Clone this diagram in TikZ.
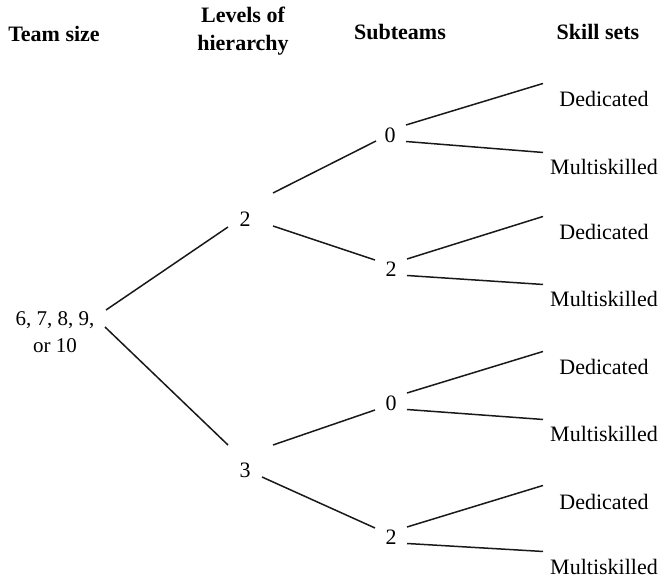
\documentclass[tikz,border=0pt]{standalone}
\usepackage{fontspec}
\setmainfont{Liberation Serif}
\usetikzlibrary{calc}
\begin{document}
\begin{tikzpicture}[x=1pt,y=1pt,
  hdr/.style={font=\fontsize{22}{28}\selectfont\bfseries, inner sep=0pt, align=center},
  num/.style={font=\fontsize{22}{27}\selectfont, inner sep=0pt},
  skill/.style={font=\fontsize{22}{27}\selectfont, inner sep=0pt, anchor=base},
  edge/.style={line width=1.5pt, draw=black!90}]
\useasboundingbox (0,0) rectangle (661,581);
% headers
\node[hdr, anchor=base] (hteam) at (54,539) {Team size};
\node[hdr, anchor=north] (hlev) at (243,574) {Levels of\\hierarchy};
\node[hdr, anchor=base] (hsub) at (400,541) {Subteams};
\node[hdr, anchor=base] (hskill) at (598,541) {Skill sets};
% tree nodes
\node[num, align=center, font=\fontsize{21}{27}\selectfont] (root) at (55,249) {6, 7, 8, 9,\\or 10};
\node[num] (h2) at (245,362) {2};
\node[num] (h3) at (245,111) {3};
\node[num] (s1) at (390,446) {0};
\node[num] (s2) at (391,312) {2};
\node[num] (s3) at (391,178) {0};
\node[num] (s4) at (391,44) {2};
\node[skill] (d1) at (604,474) {Dedicated};
\node[skill] (m1) at (604,406) {Multiskilled};
\node[skill] (d2) at (604,341) {Dedicated};
\node[skill] (m2) at (604,274) {Multiskilled};
\node[skill] (d3) at (604,206) {Dedicated};
\node[skill] (m3) at (604,139) {Multiskilled};
\node[skill] (d4) at (604,72) {Dedicated};
\node[skill] (m4) at (604,7) {Multiskilled};
% connectors
\draw[edge] ($(root)+(51,22)$) -- ($(h2)+(-17,-8)$);
\draw[edge] ($(root)+(50,5)$) -- ($(h3)+(-17,25)$);
\draw[edge] ($(h2)+(28,26)$) -- ($(s1)+(-14,-6)$);
\draw[edge] ($(h2)+(28,-7)$) -- ($(s2)+(-16,9)$);
\draw[edge] ($(h3)+(28,25)$) -- ($(s3)+(-16,-7)$);
\draw[edge] ($(h3)+(17,-7)$) -- ($(s4)+(-16,9)$);
\foreach \s/\d/\m in {s1/d1/m1, s2/d2/m2, s3/d3/m3, s4/d4/m4}{
  \draw[edge] ($(\s)+(16,10)$) -- ($(\d)+(-61,16)$);
  \draw[edge] ($(\s)+(16,-6.5)$) -- ($(\m)+(-61,15)$);
}
\end{tikzpicture}
\end{document}
